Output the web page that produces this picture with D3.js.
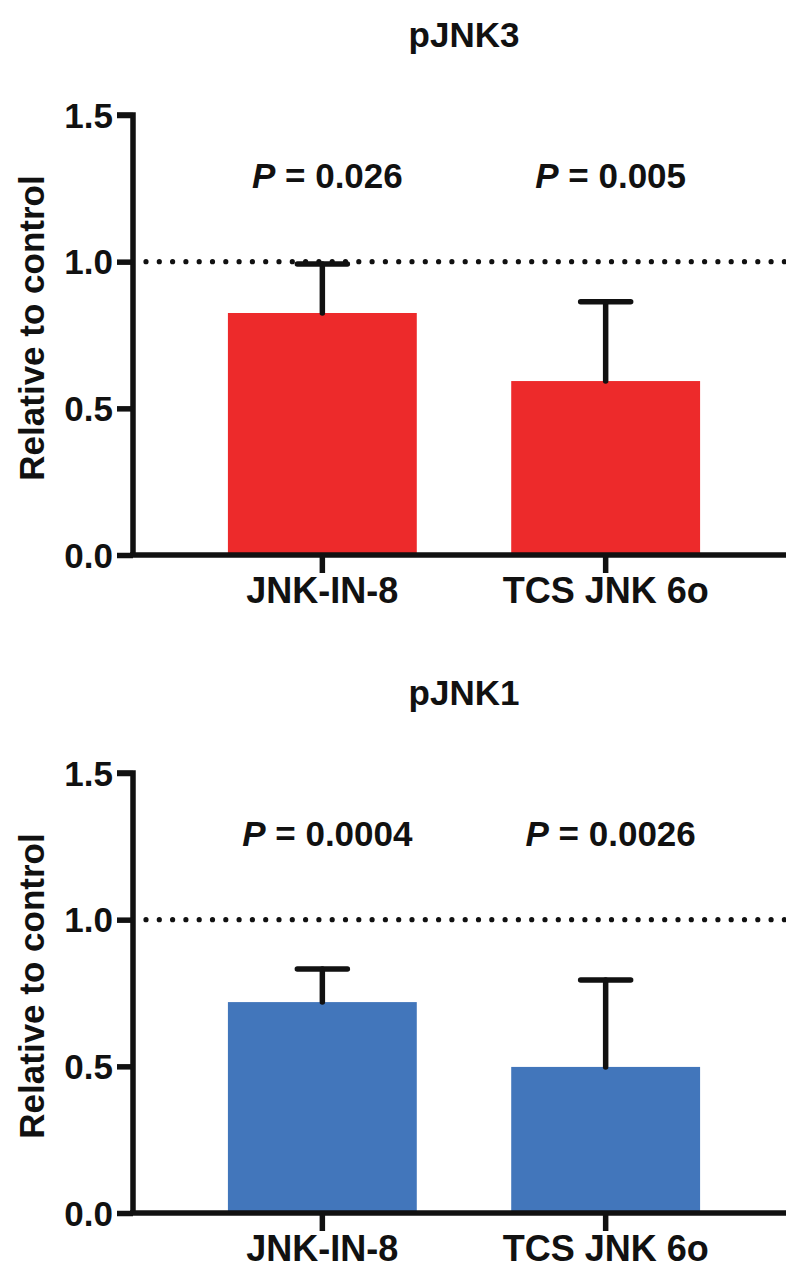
<!DOCTYPE html>
<html>
<head>
<meta charset="utf-8">
<script src="https://cdn.jsdelivr.net/npm/d3@7"></script>
<style>
  html, body { margin: 0; padding: 0; background: #fff; }
  svg text { font-family: "Liberation Sans", Arial, Helvetica, sans-serif; font-weight: bold; fill: #111; }
</style>
</head>
<body>
<svg id="chart" width="786" height="1268"></svg>
<script>
// ---- data ----
const categories = ["JNK-IN-8", "TCS JNK 6o"];
const yTicks = [0, 0.5, 1.0, 1.5];
const panelTitles = ["pJNK3", "pJNK1"];
const pJNK3Means = [0.825, 0.593];
const pJNK3Upper = [0.992, 0.863];
const pJNK3PValues = ["0.026", "0.005"];
const pJNK1Means = [0.719, 0.498];
const pJNK1Upper = [0.832, 0.794];
const pJNK1PValues = ["0.0004", "0.0026"];
const panelColors = ["#ED2A2B", "#4276BB"];
const referenceLine = 1.0;
const yAxisTitle = "Relative to control";

const panels = [
  { title: panelTitles[0], means: pJNK3Means, upper: pJNK3Upper, p: pJNK3PValues, color: panelColors[0], top: 0 },
  { title: panelTitles[1], means: pJNK1Means, upper: pJNK1Upper, p: pJNK1PValues, color: panelColors[1], top: 658 }
];

const svg = d3.select("#chart");
const x = d3.scaleBand().domain(categories).range([133, 795]).paddingInner(1/3).paddingOuter(0.335);

panels.forEach(pd => {
  const g = svg.append("g").attr("transform", `translate(0,${pd.top})`);
  const y = d3.scaleLinear().domain([0, 1.5]).range([555, 115]);

  // title
  g.append("text").attr("x", 464).attr("y", 47).attr("text-anchor", "middle")
    .style("font-size", "35px").text(pd.title);

  // y axis title
  g.append("text").attr("transform", `translate(44,${(y(0)+y(1.5))/2 - 7}) rotate(-90)`)
    .attr("text-anchor", "middle").style("font-size", "35px").text(yAxisTitle);

  // bars
  g.selectAll("rect.bar").data(categories).join("rect")
    .attr("x", d => x(d)).attr("width", x.bandwidth())
    .attr("y", (d, i) => y(pd.means[i])).attr("height", (d, i) => y(0) - y(pd.means[i]))
    .attr("fill", pd.color);

  // dotted reference line
  g.append("line").attr("x1", 146).attr("x2", 800)
    .attr("y1", y(referenceLine)).attr("y2", y(referenceLine))
    .attr("stroke", "#111").attr("stroke-width", 5.2)
    .attr("stroke-linecap", "round").attr("stroke-dasharray", "0 13.3");

  // error bars (upper)
  const cx = d => x(d) + x.bandwidth() / 2;
  g.selectAll("line.stem").data(categories).join("line")
    .attr("x1", cx).attr("x2", cx)
    .attr("y1", (d, i) => y(pd.means[i])).attr("y2", (d, i) => y(pd.upper[i]))
    .attr("stroke", "#111").attr("stroke-width", 5.5).attr("stroke-linecap", "round");
  g.selectAll("line.cap").data(categories).join("line")
    .attr("x1", d => cx(d) - 25).attr("x2", d => cx(d) + 25)
    .attr("y1", (d, i) => y(pd.upper[i])).attr("y2", (d, i) => y(pd.upper[i]))
    .attr("stroke", "#111").attr("stroke-width", 5.5).attr("stroke-linecap", "round");

  // P values
  g.selectAll("text.pv").data(categories).join("text")
    .attr("x", d => cx(d) + 5).attr("y", 188).attr("text-anchor", "middle")
    .style("font-size", "35px")
    .each(function(d, i) {
      const t = d3.select(this);
      t.append("tspan").style("font-style", "italic").text("P");
      t.append("tspan").text(" = " + pd.p[i]);
    });

  // y axis
  const yAxis = d3.axisLeft(y).tickValues(yTicks).tickFormat(d3.format(".1f"))
    .tickSize(16).tickPadding(4);
  const ya = g.append("g").attr("transform", "translate(133,0)").call(yAxis);
  ya.select(".domain").attr("stroke", "#111").attr("stroke-width", 5.5)
    .attr("d", `M-16,${y(1.5)}H0V${y(0)}`);
  ya.selectAll(".tick line").attr("stroke", "#111").attr("stroke-width", 5.5);
  ya.selectAll(".tick text").style("font-size", "35px").attr("fill", "#111")
    .style("font-family", '"Liberation Sans", Arial, sans-serif').attr("dy", "0.35em");

  // x axis
  const xAxis = d3.axisBottom(x).tickSize(18).tickPadding(4);
  const xa = g.append("g").attr("transform", `translate(0,${y(0)})`).call(xAxis);
  xa.select(".domain").attr("stroke", "#111").attr("stroke-width", 5.5)
    .attr("d", `M130,0H800`);
  xa.selectAll(".tick line").attr("stroke", "#111").attr("stroke-width", 5.5);
  xa.selectAll(".tick text").style("font-size", "36px").attr("fill", "#111")
    .style("font-family", '"Liberation Sans", Arial, sans-serif').attr("dy", "0.71em");
});
</script>
</body>
</html>
